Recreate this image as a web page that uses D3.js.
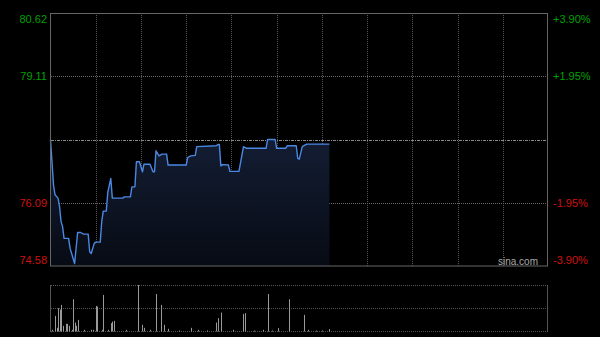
<!DOCTYPE html>
<html>
<head>
<meta charset="utf-8">
<script src="https://cdn.jsdelivr.net/npm/d3@7"></script>
<style>
  html, body { margin: 0; padding: 0; background: #000; }
  svg { display: block; }
  text { font-family: Arial, "Liberation Sans", sans-serif; }
</style>
</head>
<body>
<div id="chart"></div>
<script>
const WIDTH = 600
const HEIGHT = 337

// price axis
const priceTicks = [80.62, 79.11, 77.60, 76.09, 74.58]
const priceLabels = ['80.62', '79.11', '', '76.09', '74.58']
const pctLabels = ['+3.90%', '+1.95%', '', '-1.95%', '-3.90%']
const prevClose = 77.60

// intraday line, vertices (minute from open, price)
const minutes = [0, 2, 3, 5, 6, 7, 8, 9, 12, 13, 15, 16, 17, 18, 20, 22, 25, 26, 27, 29, 30, 33, 34, 35, 37, 38, 40, 41, 48, 49, 53, 54, 56, 57, 59, 61, 62, 66, 68, 69, 70, 72, 74, 77, 78, 90, 91, 93, 96, 97, 110, 111, 112, 113, 114, 118, 119, 125, 128, 130, 143, 144, 149, 150, 156, 157, 163, 164, 165, 167, 169, 170, 185]
const prices = [77.60, 76.51, 76.28, 76.20, 76.00, 75.64, 75.52, 75.24, 75.24, 75.00, 74.76, 74.64, 75.01, 75.38, 75.38, 75.34, 75.34, 74.92, 74.88, 75.12, 75.15, 75.15, 75.65, 75.89, 75.89, 76.34, 76.67, 76.20, 76.20, 76.23, 76.23, 76.47, 76.47, 77.07, 77.07, 76.83, 77.01, 77.01, 76.83, 76.83, 77.33, 77.21, 77.25, 77.25, 76.99, 76.99, 77.17, 77.21, 77.22, 77.43, 77.45, 77.48, 77.48, 76.97, 77.00, 76.99, 76.84, 76.84, 77.43, 77.39, 77.39, 77.60, 77.60, 77.39, 77.39, 77.45, 77.45, 77.15, 77.13, 77.43, 77.47, 77.49, 77.49]

// volume bars (minute, volume)
const volMinutes = [1, 3, 4, 5, 6, 7, 8, 10, 11, 12, 14, 15, 16, 17, 18, 22, 27, 28, 30, 31, 34, 35, 38, 40, 41, 42, 50, 58, 61, 62, 66, 70, 73, 75, 78, 85, 93, 98, 104, 110, 111, 113, 121, 128, 129, 135, 141, 144, 147, 151, 158, 168, 171, 176, 180, 185]
const volumes = [17, 157, 37, 234, 220, 267, 57, 77, 77, 57, 17, 324, 90, 57, 117, 17, 17, 17, 257, 250, 17, 367, 17, 84, 100, 107, 17, 467, 67, 37, 17, 377, 267, 67, 27, 10, 37, 17, 10, 90, 134, 190, 17, 177, 184, 10, 17, 377, 10, 34, 324, 167, 17, 10, 10, 24]

const x = d3.scaleLinear().domain([0, 330]).range([50.5, 548])
const y = d3.scaleLinear().domain([74.58, 80.62]).range([266, 13])
const yVol = d3.scaleLinear().domain([0, d3.max(volumes)]).range([331.5, 285])

const svg = d3.select('#chart').append('svg')
  .attr('width', WIDTH)
  .attr('height', HEIGHT)

svg.append('rect')
  .attr('width', WIDTH).attr('height', HEIGHT)
  .attr('fill', '#000')

const defs = svg.append('defs')
const grad = defs.append('linearGradient')
  .attr('id', 'areaFill')
  .attr('x1', 0).attr('y1', 0).attr('x2', 0).attr('y2', 1)
grad.append('stop').attr('offset', '0%').attr('stop-color', '#131d33')
grad.append('stop').attr('offset', '100%').attr('stop-color', '#070b14')

// grid
const grid = svg.append('g')
const vLines = d3.range(30, 330, 30)

grid.selectAll('.vgrid')
  .data(vLines)
  .enter().append('line')
  .attr('x1', d => Math.round(x(d)) + 0.5)
  .attr('x2', d => Math.round(x(d)) + 0.5)
  .attr('y1', 13).attr('y2', 266)
  .attr('stroke', '#555')
  .attr('stroke-dasharray', '1,1')

grid.selectAll('.hgrid')
  .data(priceTicks.slice(1, -1))
  .enter().append('line')
  .attr('x1', 51).attr('x2', 548)
  .attr('y1', d => Math.round(y(d)) + 0.5)
  .attr('y2', d => Math.round(y(d)) + 0.5)
  .attr('stroke', d => d === prevClose ? '#888' : '#666')
  .attr('stroke-dasharray', d => d === prevClose ? '3,1,1,1' : '1,1')

// area + line
const pts = minutes.map((m, i) => [m, prices[i]])

const area = d3.area()
  .x(d => x(d[0]))
  .y0(266)
  .y1(d => y(d[1]))

const line = d3.line()
  .x(d => x(d[0]))
  .y(d => y(d[1]))

svg.append('path')
  .datum(pts)
  .attr('d', area)
  .attr('fill', 'url(#areaFill)')

svg.append('path')
  .datum(pts)
  .attr('d', line)
  .attr('fill', 'none')
  .attr('stroke', '#4a88e4')
  .attr('stroke-width', 1.4)
  .attr('stroke-linejoin', 'round')

// frame
svg.append('rect')
  .attr('x', 50.5).attr('y', 13.5)
  .attr('width', 497).attr('height', 252.5)
  .attr('fill', 'none')
  .attr('stroke', '#666')

// labels
const labelColor = (d, i) => i < 2 ? '#00a000' : '#d01010'

svg.selectAll('.lLabel')
  .data(priceLabels)
  .enter().append('text')
  .attr('x', 47)
  .attr('y', (d, i) => y(priceTicks[i]) + (i === 0 ? 10 : i === 4 ? -2 : 4))
  .attr('text-anchor', 'end')
  .attr('font-size', 11)
  .attr('fill', labelColor)
  .text(d => d)

svg.selectAll('.rLabel')
  .data(pctLabels)
  .enter().append('text')
  .attr('x', 553)
  .attr('y', (d, i) => y(priceTicks[i]) + (i === 0 ? 10 : i === 4 ? -2 : 4))
  .attr('font-size', 11)
  .attr('fill', labelColor)
  .text(d => d)

svg.append('text')
  .attr('x', 498)
  .attr('y', 265)
  .attr('font-size', 10)
  .attr('fill', '#aaa')
  .text('sina.com')

// volume panel
const vol = svg.append('g')

vol.selectAll('.volgrid')
  .data([285.5, 308.5, 331.5])
  .enter().append('line')
  .attr('x1', 51).attr('x2', 548)
  .attr('y1', d => d).attr('y2', d => d)
  .attr('stroke', '#555')
  .attr('stroke-dasharray', '1,1')

vol.append('line')
  .attr('x1', 50.5).attr('x2', 50.5)
  .attr('y1', 285).attr('y2', 332)
  .attr('stroke', '#555')

vol.append('line')
  .attr('x1', 547.5).attr('x2', 547.5)
  .attr('y1', 285).attr('y2', 332)
  .attr('stroke', '#555')

vol.selectAll('.bar')
  .data(volMinutes)
  .enter().append('rect')
  .attr('x', d => Math.round(x(d)))
  .attr('width', 1)
  .attr('y', (d, i) => yVol(volumes[i]))
  .attr('height', (d, i) => 331.5 - yVol(volumes[i]))
  .attr('fill', '#999')
</script>
</body>
</html>
